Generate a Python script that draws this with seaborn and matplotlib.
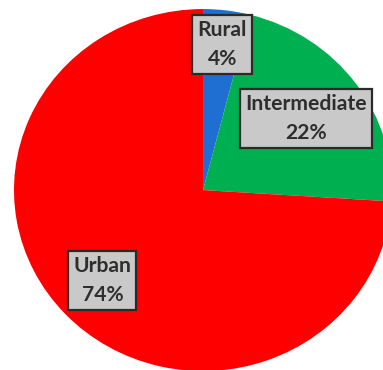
import numpy as np
import matplotlib
matplotlib.use("Agg")
import matplotlib.pyplot as plt
import seaborn as sns

# Share of population by area type
categories = ["Rural", "Intermediate", "Urban"]
shares = [4, 22, 74]
slice_colors = ["#1f6fd2", "#00b050", "#ff0000"]
label_radius = [0.81, 0.675, 0.73]

sns.set_theme(style="white")
plt.rcParams["font.family"] = ["Lato", "DejaVu Sans"]

fig = plt.figure(figsize=(3.83, 3.70), dpi=100)
ax = fig.add_axes([0, 0, 1, 1])

wedges, _ = ax.pie(shares, colors=slice_colors, startangle=90,
                   counterclock=False, radius=1.0,
                   wedgeprops=dict(linewidth=0))

for w, name, val, r in zip(wedges, categories, shares, label_radius):
    mid = np.deg2rad((w.theta1 + w.theta2) / 2)
    ax.text(r * np.cos(mid), r * np.sin(mid), f"{name}\n{val}%",
            ha="center", va="center", fontsize=15.2, fontweight="bold",
            color="#2e2e2e", linespacing=1.55,
            bbox=dict(boxstyle="square,pad=0.24", fc="#c9c9c9",
                      ec="#2a2a2a", lw=1.6))

# pie slightly stretched horizontally and cropped on the right/bottom
ax.set_aspect("auto")
ax.set_xlim(-1.074, 0.952)
ax.set_ylim(-0.994, 1.050)
ax.axis("off")

fig.savefig("out.png", dpi=100, facecolor="white")
